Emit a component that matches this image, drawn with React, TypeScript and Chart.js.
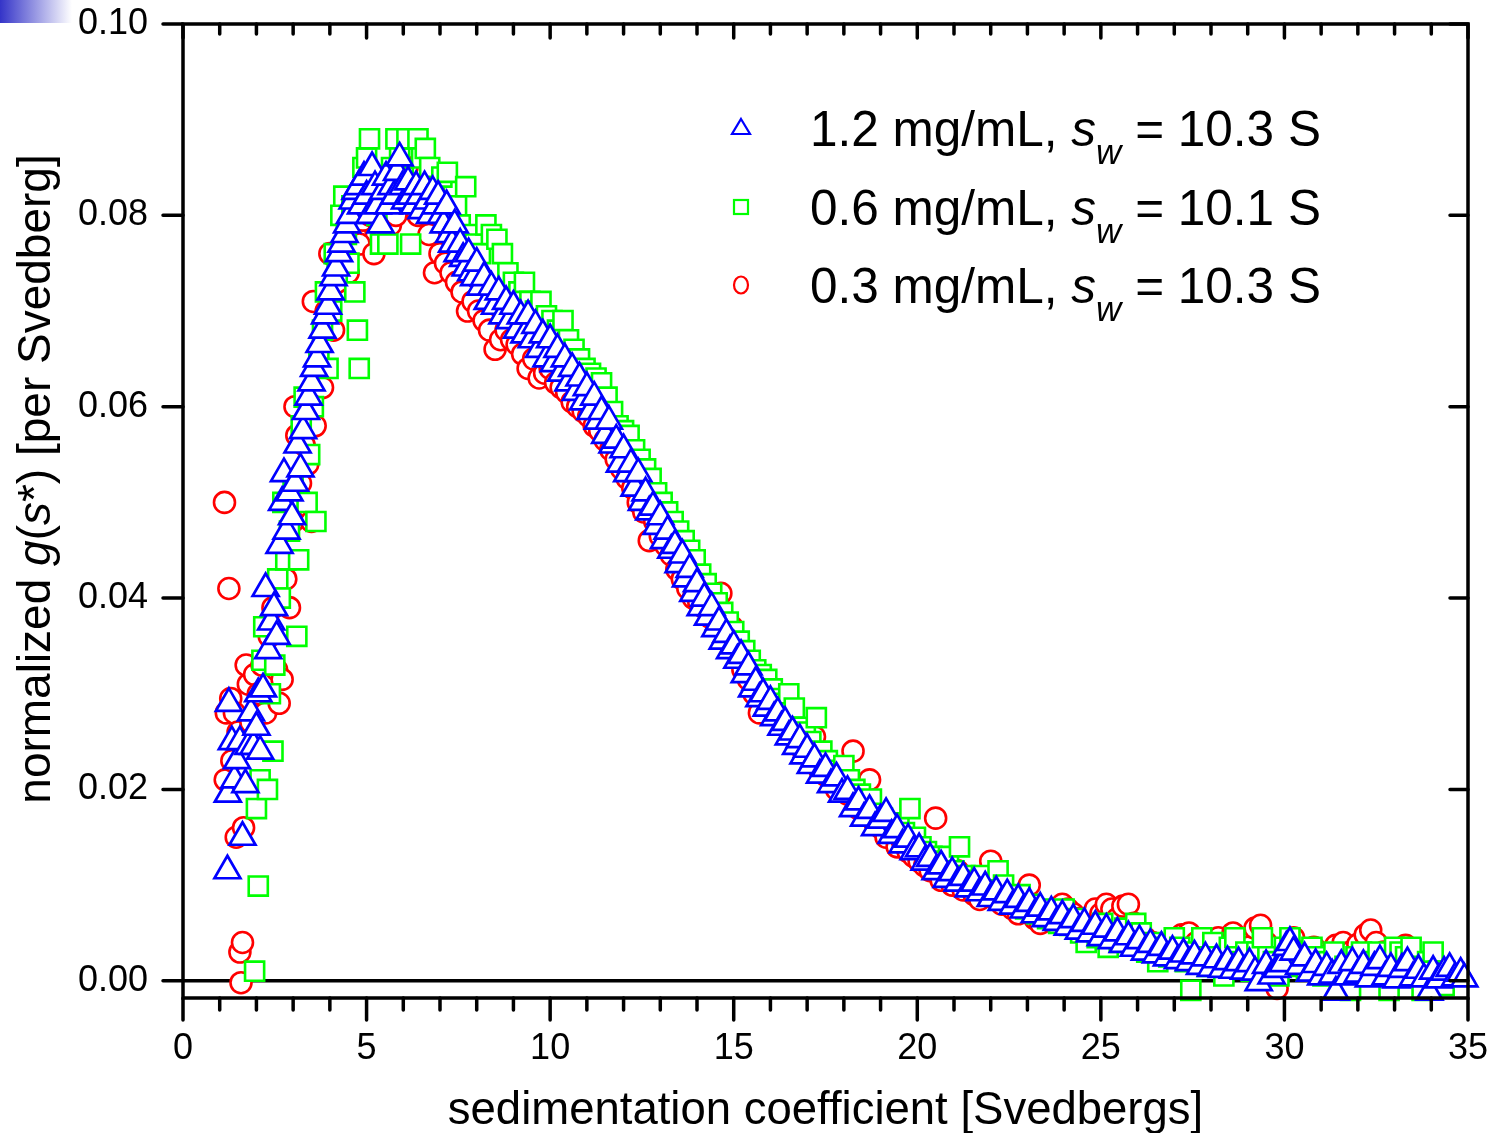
import React, { useEffect, useRef } from 'react';
import { Chart, registerables } from 'chart.js';

Chart.register(...registerables);

const FONT = '"Liberation Sans", Arial, Helvetica, sans-serif';

const xMin = 0;
const xMax = 35;
const yMin = -0.0018;
const yMax = 0.1;
const xTickValues = [0, 5, 10, 15, 20, 25, 30, 35];
const yTickValues = [0, 0.02, 0.04, 0.06, 0.08, 0.1];
const xTitle = 'sedimentation coefficient [Svedbergs]';
const legendConc = ['1.2 mg/mL, ', '0.6 mg/mL, ', '0.3 mg/mL, '];
const legendSw = [' = 10.3 S', ' = 10.1 S', ' = 10.3 S'];

// 1.2 mg/mL (blue triangles): [s, g(s*)]
const series12: [number, number][] = [
  [1.21, 0.0115], [1.22, 0.0195], [1.25, 0.029], [1.33, 0.025], [1.4, 0.021], [1.47, 0.023],
  [1.55, 0.025], [1.62, 0.015], [1.7, 0.0205], [1.78, 0.0245], [1.85, 0.028], [1.92, 0.0245],
  [2.0, 0.0265], [2.05, 0.03], [2.1, 0.024], [2.18, 0.0305], [2.25, 0.041], [2.32, 0.0345],
  [2.4, 0.0375], [2.48, 0.039], [2.55, 0.036], [2.63, 0.0455], [2.7, 0.05], [2.75, 0.053],
  [2.82, 0.047], [2.9, 0.051], [2.97, 0.0485], [3.05, 0.052], [3.12, 0.056], [3.2, 0.0535],
  [3.27, 0.0575], [3.35, 0.0595], [3.42, 0.061], [3.5, 0.0625], [3.57, 0.064], [3.65, 0.065],
  [3.72, 0.0665], [3.8, 0.068], [3.87, 0.0695], [3.95, 0.0705], [4.02, 0.072], [4.1, 0.0735],
  [4.17, 0.0745], [4.25, 0.076], [4.32, 0.077], [4.4, 0.078], [4.47, 0.079], [4.55, 0.08],
  [4.62, 0.0815], [4.7, 0.0825], [4.78, 0.083], [4.85, 0.081], [4.93, 0.084], [5.0, 0.082],
  [5.08, 0.08], [5.15, 0.085], [5.23, 0.083], [5.3, 0.081], [5.38, 0.079], [5.45, 0.0825],
  [5.53, 0.084], [5.6, 0.081], [5.68, 0.083], [5.75, 0.082], [5.83, 0.0845], [5.9, 0.086],
  [5.98, 0.083], [6.05, 0.0815], [6.13, 0.0835], [6.2, 0.082], [6.28, 0.081], [6.35, 0.083],
  [6.43, 0.082], [6.5, 0.0805], [6.58, 0.083], [6.65, 0.0815], [6.73, 0.08], [6.8, 0.0825],
  [6.88, 0.081], [6.95, 0.082], [7.03, 0.08], [7.1, 0.079], [7.18, 0.081], [7.25, 0.078],
  [7.33, 0.077], [7.4, 0.079], [7.48, 0.076], [7.55, 0.077], [7.63, 0.0755], [7.7, 0.0745],
  [7.78, 0.076], [7.85, 0.074], [7.93, 0.0735], [8.0, 0.075], [8.1, 0.0725], [8.2, 0.0735],
  [8.3, 0.071], [8.4, 0.0725], [8.5, 0.0705], [8.6, 0.072], [8.7, 0.0695], [8.8, 0.071],
  [8.9, 0.069], [9.0, 0.0705], [9.1, 0.068], [9.2, 0.0695], [9.3, 0.0675], [9.4, 0.0695],
  [9.5, 0.067], [9.6, 0.0685], [9.7, 0.066], [9.8, 0.0675], [9.9, 0.065], [10.0, 0.067],
  [10.1, 0.0645], [10.2, 0.066], [10.3, 0.0635], [10.4, 0.065], [10.5, 0.0625], [10.6, 0.064],
  [10.7, 0.0615], [10.8, 0.063], [10.9, 0.0605], [11.0, 0.062], [11.1, 0.0595], [11.2, 0.061],
  [11.3, 0.0585], [11.4, 0.0595], [11.5, 0.057], [11.6, 0.0585], [11.7, 0.056], [11.8, 0.0565],
  [11.9, 0.054], [12.0, 0.0555], [12.1, 0.053], [12.2, 0.054], [12.3, 0.0515], [12.4, 0.053],
  [12.5, 0.05], [12.6, 0.051], [12.7, 0.049], [12.8, 0.0495], [12.9, 0.0475], [13.0, 0.0485],
  [13.1, 0.046], [13.2, 0.047], [13.3, 0.045], [13.4, 0.0455], [13.5, 0.0435], [13.6, 0.0445],
  [13.7, 0.042], [13.8, 0.043], [13.9, 0.0405], [14.0, 0.0415], [14.1, 0.039], [14.2, 0.04],
  [14.3, 0.038], [14.4, 0.039], [14.5, 0.0368], [14.6, 0.0375], [14.7, 0.0355], [14.8, 0.0362],
  [14.9, 0.0345], [15.0, 0.035], [15.1, 0.0335], [15.2, 0.034], [15.3, 0.032], [15.4, 0.0328],
  [15.5, 0.0305], [15.6, 0.0312], [15.7, 0.0295], [15.8, 0.03], [15.9, 0.0285], [16.0, 0.0292],
  [16.1, 0.0275], [16.2, 0.028], [16.3, 0.0265], [16.4, 0.027], [16.5, 0.0255], [16.6, 0.026],
  [16.7, 0.0245], [16.8, 0.0252], [16.9, 0.0235], [17.0, 0.0242], [17.1, 0.0225], [17.2, 0.0232],
  [17.35, 0.0215], [17.5, 0.0222], [17.65, 0.0205], [17.8, 0.0212], [17.95, 0.0195], [18.1, 0.0198],
  [18.25, 0.018], [18.4, 0.0187], [18.55, 0.017], [18.7, 0.0178], [18.85, 0.016], [19.0, 0.0168],
  [19.15, 0.0175], [19.3, 0.0152], [19.45, 0.0158], [19.6, 0.0142], [19.75, 0.0148], [19.9, 0.0135],
  [20.05, 0.0138], [20.2, 0.0124], [20.35, 0.0128], [20.5, 0.0114], [20.65, 0.012], [20.8, 0.0106],
  [20.95, 0.0113], [21.1, 0.0102], [21.25, 0.0108], [21.4, 0.0096], [21.55, 0.0102], [21.7, 0.0092],
  [21.85, 0.0098], [22.0, 0.0086], [22.15, 0.0093], [22.3, 0.0082], [22.45, 0.009], [22.6, 0.0078],
  [22.75, 0.0085], [22.9, 0.0074], [23.05, 0.0081], [23.2, 0.0069], [23.35, 0.0076], [23.5, 0.0065],
  [23.65, 0.0072], [23.8, 0.0061], [23.95, 0.0068], [24.1, 0.0056], [24.25, 0.0064], [24.4, 0.0052],
  [24.55, 0.006], [24.7, 0.0049], [24.85, 0.0057], [25.0, 0.0045], [25.15, 0.0054], [25.3, 0.0042],
  [25.45, 0.005], [25.6, 0.0038], [25.75, 0.0046], [25.9, 0.0034], [26.05, 0.0042], [26.2, 0.003],
  [26.35, 0.0038], [26.5, 0.0027], [26.65, 0.0035], [26.8, 0.0024], [26.95, 0.0031], [27.1, 0.0021],
  [27.25, 0.0028], [27.4, 0.0019], [27.55, 0.0026], [27.7, 0.0015], [27.85, 0.0024], [28.0, 0.0013],
  [28.15, 0.0022], [28.3, 0.0012], [28.45, 0.002], [28.6, 0.0011], [28.75, 0.0019], [28.9, 0.001],
  [29.05, 0.0018], [29.2, 0.0009], [29.3, -0.0002], [29.5, 0.0016], [29.65, 0.0005], [29.8, 0.0012],
  [29.95, 0.0018], [30.05, 0.0035], [30.15, 0.004], [30.25, 0.003], [30.4, 0.0015], [30.55, 0.0024],
  [30.7, 0.0008], [30.85, 0.0017], [31.0, 0.0004], [31.15, 0.0014], [31.3, 0.0006], [31.4, -0.0012],
  [31.55, 0.0016], [31.7, 0.0004], [31.85, 0.0019], [32.0, 0.0007], [32.15, 0.0016], [32.3, 0.0002],
  [32.45, 0.0014], [32.6, 0.0021], [32.75, 0.0004], [32.9, 0.0013], [33.05, 0.0001], [33.2, 0.0012],
  [33.35, 0.0019], [33.5, 0.0003], [33.65, 0.0011], [33.8, 0.0002], [33.95, -0.0012], [34.05, 0.001],
  [34.2, 0.0001], [34.35, 0.0009], [34.5, 0.0013], [34.65, 0.0003], [34.8, 0.0008], [34.9, 0.0002],
];

// 0.6 mg/mL (green squares)
const series06: [number, number][] = [
  [1.95, 0.001], [2.0, 0.018], [2.05, 0.0099], [2.1, 0.021], [2.15, 0.0335], [2.2, 0.037],
  [2.3, 0.02], [2.38, 0.03], [2.45, 0.024], [2.5, 0.033], [2.58, 0.042], [2.65, 0.04],
  [2.72, 0.05], [2.8, 0.044], [2.9, 0.047], [3.0, 0.052], [3.1, 0.036], [3.15, 0.044],
  [3.22, 0.058], [3.3, 0.061], [3.38, 0.05], [3.45, 0.055], [3.55, 0.06], [3.62, 0.048],
  [3.7, 0.065], [3.8, 0.068], [3.88, 0.072], [3.95, 0.064], [4.05, 0.07], [4.12, 0.076],
  [4.2, 0.074], [4.3, 0.08], [4.38, 0.082], [4.45, 0.078], [4.52, 0.075], [4.6, 0.081],
  [4.68, 0.072], [4.75, 0.068], [4.8, 0.064], [4.9, 0.085], [5.0, 0.086], [5.08, 0.088],
  [5.18, 0.083], [5.28, 0.08], [5.38, 0.077], [5.48, 0.082], [5.58, 0.077], [5.68, 0.085],
  [5.8, 0.088], [5.9, 0.086], [6.0, 0.084], [6.1, 0.088], [6.2, 0.077], [6.3, 0.082],
  [6.4, 0.088], [6.5, 0.086], [6.6, 0.087], [6.72, 0.085], [6.85, 0.083], [6.95, 0.081],
  [7.05, 0.084], [7.2, 0.0845], [7.3, 0.08], [7.45, 0.081], [7.55, 0.079], [7.7, 0.083],
  [7.8, 0.078], [7.95, 0.077], [8.1, 0.076], [8.25, 0.079], [8.4, 0.078], [8.55, 0.0775],
  [8.7, 0.076], [8.85, 0.074], [9.0, 0.073], [9.15, 0.072], [9.3, 0.073], [9.45, 0.071],
  [9.6, 0.07], [9.75, 0.071], [9.9, 0.0695], [10.05, 0.069], [10.2, 0.068], [10.35, 0.069],
  [10.5, 0.067], [10.65, 0.066], [10.8, 0.065], [10.95, 0.064], [11.1, 0.0635], [11.25, 0.063],
  [11.4, 0.0625], [11.55, 0.061], [11.7, 0.0595], [11.85, 0.058], [12.0, 0.0575], [12.15, 0.057],
  [12.3, 0.0555], [12.45, 0.0545], [12.6, 0.0535], [12.75, 0.0525], [12.9, 0.051], [13.05, 0.05],
  [13.2, 0.049], [13.35, 0.048], [13.5, 0.047], [13.65, 0.046], [13.8, 0.045], [13.95, 0.044],
  [14.1, 0.0425], [14.25, 0.0415], [14.4, 0.0405], [14.55, 0.0395], [14.7, 0.0385], [14.85, 0.0375],
  [15.0, 0.0365], [15.15, 0.0355], [15.3, 0.0345], [15.45, 0.0335], [15.6, 0.0325], [15.75, 0.032],
  [15.9, 0.0315], [16.05, 0.0305], [16.2, 0.0295], [16.35, 0.029], [16.5, 0.03], [16.65, 0.0285],
  [16.8, 0.0265], [16.95, 0.026], [17.1, 0.025], [17.25, 0.0275], [17.4, 0.024], [17.55, 0.023],
  [17.7, 0.022], [17.85, 0.0215], [18.0, 0.0225], [18.15, 0.021], [18.3, 0.02], [18.45, 0.0195],
  [18.6, 0.0185], [18.75, 0.019], [18.9, 0.0175], [19.05, 0.017], [19.2, 0.0165], [19.35, 0.016],
  [19.5, 0.0165], [19.65, 0.0155], [19.8, 0.018], [19.95, 0.015], [20.1, 0.014], [20.25, 0.0135],
  [20.4, 0.013], [20.55, 0.0125], [20.7, 0.012], [20.85, 0.013], [21.0, 0.0115], [21.15, 0.014],
  [21.3, 0.011], [21.45, 0.0105], [21.6, 0.01], [21.75, 0.011], [21.9, 0.0095], [22.05, 0.009],
  [22.2, 0.0115], [22.35, 0.01], [22.5, 0.0085], [22.65, 0.008], [22.8, 0.009], [22.95, 0.0075],
  [23.1, 0.008], [23.25, 0.007], [23.4, 0.0075], [23.55, 0.0065], [23.7, 0.007], [23.85, 0.006],
  [24.0, 0.0075], [24.15, 0.0058], [24.3, 0.0065], [24.45, 0.005], [24.6, 0.004], [24.75, 0.0055],
  [24.9, 0.0045], [25.05, 0.006], [25.2, 0.0035], [25.35, 0.005], [25.5, 0.004], [25.65, 0.0055],
  [25.8, 0.0045], [25.95, 0.006], [26.1, 0.005], [26.25, 0.003], [26.4, 0.004], [26.55, 0.002],
  [26.7, 0.0035], [26.85, 0.0025], [27.0, 0.0045], [27.15, 0.0035], [27.3, 0.002], [27.45, -0.001],
  [27.6, 0.003], [27.75, 0.0045], [27.9, 0.0015], [28.05, 0.004], [28.2, 0.0025], [28.35, 0.0005],
  [28.5, 0.0035], [28.65, 0.0045], [28.8, 0.002], [28.95, 0.003], [29.1, 0.001], [29.25, 0.003],
  [29.4, 0.0045], [29.55, 0.0025], [29.7, 0.002], [29.85, 0.0005], [30.0, 0.0035], [30.15, 0.0045],
  [30.3, 0.0015], [30.45, 0.003], [30.6, 0.001], [30.75, 0.0035], [30.9, 0.0025], [31.05, 0.0005],
  [31.2, 0.002], [31.35, 0.003], [31.5, -0.0005], [31.65, 0.0015], [31.8, -0.001], [31.95, 0.0025],
  [32.1, 0.003], [32.25, 0.0005], [32.4, 0.002], [32.55, 0.003], [32.7, 0.0015], [32.85, -0.001],
  [33.0, 0.0035], [33.15, 0.003], [33.3, 0.0025], [33.45, 0.0035], [33.6, 0.001], [33.75, -0.001],
  [33.9, 0.002], [34.05, 0.003], [34.2, 0.001], [34.35, -0.0005],
];

// 0.3 mg/mL (red circles)
const series03: [number, number][] = [
  [1.13, 0.05], [1.15, 0.021], [1.18, 0.028], [1.25, 0.041], [1.3, 0.0295], [1.33, 0.023],
  [1.4, 0.028], [1.45, 0.015], [1.5, 0.026], [1.55, 0.003], [1.58, -0.0002], [1.62, 0.004],
  [1.65, 0.016], [1.72, 0.033], [1.78, 0.031], [1.85, 0.027], [1.95, 0.032], [2.05, 0.03],
  [2.15, 0.033], [2.25, 0.028], [2.35, 0.036], [2.45, 0.039], [2.55, 0.0325], [2.62, 0.029],
  [2.7, 0.0315], [2.8, 0.042], [2.9, 0.039], [3.0, 0.048], [3.05, 0.06], [3.1, 0.057],
  [3.2, 0.052], [3.3, 0.056], [3.4, 0.054], [3.5, 0.048], [3.55, 0.071], [3.6, 0.058],
  [3.7, 0.064], [3.8, 0.062], [3.9, 0.07], [4.0, 0.076], [4.1, 0.068], [4.2, 0.073],
  [4.3, 0.074], [4.4, 0.076], [4.5, 0.074], [4.6, 0.08], [4.7, 0.078], [4.8, 0.077],
  [4.9, 0.0795], [5.0, 0.082], [5.1, 0.08], [5.2, 0.076], [5.35, 0.079], [5.5, 0.082],
  [5.65, 0.079], [5.8, 0.08], [5.95, 0.083], [6.1, 0.085], [6.25, 0.082], [6.4, 0.08],
  [6.55, 0.081], [6.7, 0.078], [6.85, 0.074], [7.0, 0.076], [7.15, 0.075], [7.3, 0.074],
  [7.45, 0.073], [7.6, 0.072], [7.75, 0.07], [7.9, 0.071], [8.05, 0.07], [8.2, 0.069],
  [8.35, 0.068], [8.5, 0.066], [8.65, 0.067], [8.8, 0.068], [8.95, 0.067], [9.1, 0.0665],
  [9.25, 0.0655], [9.4, 0.064], [9.55, 0.065], [9.7, 0.063], [9.85, 0.0635], [10.0, 0.064],
  [10.15, 0.0625], [10.3, 0.062], [10.45, 0.0615], [10.6, 0.0605], [10.75, 0.06], [10.9, 0.0595],
  [11.05, 0.059], [11.2, 0.058], [11.35, 0.0575], [11.5, 0.0565], [11.65, 0.0555], [11.8, 0.0545],
  [11.95, 0.0535], [12.1, 0.0525], [12.25, 0.0515], [12.4, 0.05], [12.55, 0.049], [12.7, 0.046],
  [12.85, 0.048], [13.0, 0.0465], [13.15, 0.0455], [13.3, 0.0445], [13.45, 0.043], [13.6, 0.042],
  [13.75, 0.041], [13.9, 0.04], [14.05, 0.0395], [14.2, 0.039], [14.35, 0.038], [14.5, 0.0395],
  [14.65, 0.0405], [14.8, 0.0375], [14.95, 0.037], [15.1, 0.0345], [15.25, 0.0325], [15.4, 0.0315],
  [15.55, 0.03], [15.7, 0.028], [15.85, 0.0305], [16.0, 0.029], [16.15, 0.0285], [16.3, 0.0275],
  [16.45, 0.027], [16.6, 0.026], [16.75, 0.025], [16.9, 0.024], [17.05, 0.0235], [17.2, 0.0255],
  [17.35, 0.022], [17.5, 0.0215], [17.65, 0.021], [17.8, 0.02], [17.95, 0.0205], [18.1, 0.0195],
  [18.25, 0.024], [18.4, 0.018], [18.55, 0.0175], [18.7, 0.021], [18.85, 0.0165], [19.0, 0.016],
  [19.15, 0.015], [19.3, 0.0155], [19.45, 0.014], [19.6, 0.0145], [19.75, 0.0135], [19.9, 0.013],
  [20.05, 0.0125], [20.2, 0.012], [20.35, 0.0115], [20.5, 0.017], [20.65, 0.0105], [20.8, 0.011],
  [20.95, 0.01], [21.1, 0.0115], [21.25, 0.0095], [21.4, 0.01], [21.55, 0.009], [21.7, 0.0085],
  [21.85, 0.0095], [22.0, 0.0125], [22.15, 0.0085], [22.3, 0.008], [22.45, 0.0085], [22.6, 0.0075],
  [22.75, 0.007], [22.9, 0.008], [23.05, 0.01], [23.2, 0.0065], [23.35, 0.006], [23.5, 0.007],
  [23.65, 0.0062], [23.8, 0.0075], [23.95, 0.008], [24.1, 0.0075], [24.25, 0.007], [24.4, 0.0065],
  [24.55, 0.0062], [24.7, 0.0055], [24.85, 0.0075], [25.0, 0.007], [25.15, 0.008], [25.3, 0.0075],
  [25.45, 0.0065], [25.6, 0.0078], [25.75, 0.008], [25.9, 0.006], [26.05, 0.005], [26.2, 0.0045],
  [26.4, 0.004], [26.6, 0.003], [26.8, 0.0035], [27.0, 0.0025], [27.2, 0.0048], [27.4, 0.005],
  [27.6, 0.004], [27.8, 0.0035], [28.0, 0.002], [28.2, 0.0045], [28.4, 0.003], [28.6, 0.005],
  [28.8, 0.004], [29.0, 0.0035], [29.2, 0.0055], [29.35, 0.0058], [29.5, 0.004], [29.65, 0.002],
  [29.8, -0.0008], [29.95, 0.0025], [30.1, 0.0038], [30.25, 0.0045], [30.4, 0.003], [30.6, 0.0015],
  [30.8, 0.0035], [31.0, 0.0025], [31.2, 0.0015], [31.4, 0.0037], [31.6, 0.004], [31.8, 0.003],
  [32.0, 0.0038], [32.2, 0.0048], [32.35, 0.0053], [32.5, 0.004], [32.7, 0.003], [32.9, 0.002],
  [33.1, 0.0025], [33.3, 0.0037], [33.5, 0.0015], [33.7, 0.001], [33.9, 0.002],
];

type Seg = { t: string; italic?: boolean; sub?: boolean };

function drawRich(ctx: CanvasRenderingContext2D, segs: Seg[], x: number, y: number, size: number, subSize: number, subDy: number) {
  let cx = x;
  for (const s of segs) {
    const fs = s.sub ? subSize : size;
    ctx.font = `${s.italic ? 'italic ' : ''}${fs}px ${FONT}`;
    ctx.fillText(s.t, cx, s.sub ? y + subDy : y);
    cx += ctx.measureText(s.t).width;
  }
  return cx - x;
}

function richWidth(ctx: CanvasRenderingContext2D, segs: Seg[], size: number, subSize: number) {
  let w = 0;
  for (const s of segs) {
    const fs = s.sub ? subSize : size;
    ctx.font = `${s.italic ? 'italic ' : ''}${fs}px ${FONT}`;
    w += ctx.measureText(s.t).width;
  }
  return w;
}

const zeroPadding = (scale: any) => {
  scale.paddingLeft = 0;
  scale.paddingRight = 0;
  scale.paddingTop = 0;
  scale.paddingBottom = 0;
};

const decorPlugin = {
  id: 'decor',
  beforeDraw(chart: any) {
    const ctx: CanvasRenderingContext2D = chart.ctx;
    ctx.save();
    ctx.fillStyle = '#ffffff';
    ctx.fillRect(0, 0, chart.width, chart.height);
    const grad = ctx.createLinearGradient(0, 0, 72, 0);
    grad.addColorStop(0, 'rgb(52,52,200)');
    grad.addColorStop(1, 'rgba(255,255,255,1)');
    ctx.fillStyle = grad;
    ctx.fillRect(0, 0, 72, 23);
    ctx.restore();
  },
  beforeDatasetsDraw(chart: any) {
    const ctx: CanvasRenderingContext2D = chart.ctx;
    const { left, right } = chart.chartArea;
    const y0 = chart.scales.y.getPixelForValue(0);
    ctx.save();
    ctx.strokeStyle = '#000';
    ctx.lineWidth = 3.5;
    ctx.beginPath();
    ctx.moveTo(left, y0);
    ctx.lineTo(right, y0);
    ctx.stroke();
    ctx.restore();
  },
  afterDatasetsDraw(chart: any) {
    const ctx: CanvasRenderingContext2D = chart.ctx;
    const { left, right, top, bottom } = chart.chartArea;
    const xs = chart.scales.x;
    const ys = chart.scales.y;
    ctx.save();
    ctx.strokeStyle = '#000';
    ctx.lineWidth = 3.5;
    ctx.lineCap = 'round';
    ctx.beginPath();
    for (let v = xMin; v <= xMax; v += 1) {
      const px = xs.getPixelForValue(v);
      const major = v % 5 === 0;
      ctx.moveTo(px, bottom);
      ctx.lineTo(px, bottom + (major ? 22 : 12));
      ctx.moveTo(px, top);
      ctx.lineTo(px, top + (major ? 14 : 10));
    }
    for (const v of yTickValues) {
      const py = ys.getPixelForValue(v);
      ctx.moveTo(left, py);
      ctx.lineTo(left - 20, py);
      ctx.moveTo(right, py);
      ctx.lineTo(right - 18, py);
    }
    ctx.stroke();
    ctx.lineCap = 'butt';
    ctx.lineJoin = 'miter';
    ctx.lineWidth = 3.5;
    ctx.strokeRect(left, top, right - left, bottom - top);

    // legend
    const lx = 741;
    const rows = [128, 207, 285];
    ctx.lineWidth = 2.2;
    ctx.strokeStyle = '#0000ff';
    ctx.fillStyle = '#ffffff';
    ctx.beginPath();
    ctx.moveTo(lx, rows[0] - 9);
    ctx.lineTo(lx + 9, rows[0] + 6);
    ctx.lineTo(lx - 9, rows[0] + 6);
    ctx.closePath();
    ctx.fill();
    ctx.stroke();
    ctx.strokeStyle = '#00ff00';
    ctx.strokeRect(lx - 7, rows[1] - 7, 14, 14);
    ctx.strokeStyle = '#ff0000';
    ctx.beginPath();
    ctx.ellipse(lx, rows[2], 7, 8.5, 0, 0, Math.PI * 2);
    ctx.stroke();

    ctx.fillStyle = '#000';
    ctx.textBaseline = 'alphabetic';
    ctx.textAlign = 'left';
    for (let i = 0; i < 3; i++) {
      const segs: Seg[] = [
        { t: legendConc[i] },
        { t: 's', italic: true },
        { t: 'w', italic: true, sub: true },
        { t: legendSw[i] },
      ];
      drawRich(ctx, segs, 810, rows[i] + 18, 49.5, 35, 18);
    }

    // x title
    ctx.font = `45.5px ${FONT}`;
    ctx.textAlign = 'center';
    ctx.fillText(xTitle, (left + right) / 2, 1124);

    // y title
    const ySegs: Seg[] = [
      { t: 'normalized ' },
      { t: 'g', italic: true },
      { t: '(' },
      { t: 's', italic: true },
      { t: '*) [per Svedberg]' },
    ];
    ctx.textAlign = 'left';
    const w = richWidth(ctx, ySegs, 46, 46);
    ctx.translate(50, 479);
    ctx.rotate(-Math.PI / 2);
    drawRich(ctx, ySegs, -w / 2, 0, 46, 46, 0);
    ctx.restore();
  },
};

export default function App() {
  const ref = useRef<HTMLCanvasElement>(null);
  useEffect(() => {
    const canvas = ref.current;
    if (!canvas) return;
    const toPts = (arr: [number, number][]) => arr.map(([x, y]) => ({ x, y }));
    const chart = new Chart(canvas, {
      type: 'scatter',
      data: {
        datasets: [
          {
            label: '1.2 mg/mL',
            data: toPts(series12),
            pointStyle: 'triangle',
            pointRadius: 15,
            pointHoverRadius: 15,
            pointBorderWidth: 2.7,
            pointBorderColor: '#0000ff',
            pointBackgroundColor: '#ffffff',
            showLine: false,
            clip: false,
          },
          {
            label: '0.6 mg/mL',
            data: toPts(series06),
            pointStyle: 'rect',
            pointRadius: 13.5,
            pointHoverRadius: 13.5,
            pointBorderWidth: 2.6,
            pointBorderColor: '#00ff00',
            pointBackgroundColor: '#ffffff',
            showLine: false,
            clip: false,
          },
          {
            label: '0.3 mg/mL',
            data: toPts(series03),
            pointStyle: 'circle',
            pointRadius: 10.5,
            pointHoverRadius: 10.5,
            pointBorderWidth: 2.6,
            pointBorderColor: '#ff0000',
            pointBackgroundColor: '#ffffff',
            showLine: false,
            clip: false,
          },
        ],
      } as any,
      options: {
        responsive: false,
        animation: false,
        devicePixelRatio: 1,
        events: [],
        layout: { padding: { left: 0, right: 29, top: 24, bottom: 0 } },
        plugins: { legend: { display: false }, tooltip: { enabled: false }, title: { display: false } },
        scales: {
          x: {
            type: 'linear',
            position: 'bottom',
            min: xMin,
            max: xMax,
            afterBuildTicks: (scale: any) => {
              scale.ticks = xTickValues.map((value) => ({ value }));
            },
            ticks: {
              font: { size: 36, family: FONT },
              color: '#000',
              padding: 29,
              maxRotation: 0,
              callback: (v: any) => String(v),
            },
            grid: { display: false, drawTicks: false },
            border: { display: false },
            afterFit: (scale: any) => {
              scale.height = 135;
              zeroPadding(scale);
            },
          },
          y: {
            type: 'linear',
            min: yMin,
            max: yMax,
            afterBuildTicks: (scale: any) => {
              scale.ticks = yTickValues.map((value) => ({ value }));
            },
            ticks: {
              font: { size: 36, family: FONT },
              color: '#000',
              padding: 35,
              callback: (v: any) => Number(v).toFixed(2),
            },
            grid: { display: false, drawTicks: false },
            border: { display: false },
            afterFit: (scale: any) => {
              scale.width = 183;
              zeroPadding(scale);
            },
          },
        },
      } as any,
      plugins: [decorPlugin],
    });
    return () => chart.destroy();
  }, []);
  return (
    <div style={{ position: 'fixed', left: 0, top: 0, width: 1497, height: 1133, background: '#fff' }}>
      <canvas ref={ref} width={1497} height={1133} style={{ display: 'block', width: 1497, height: 1133 }} />
    </div>
  );
}
